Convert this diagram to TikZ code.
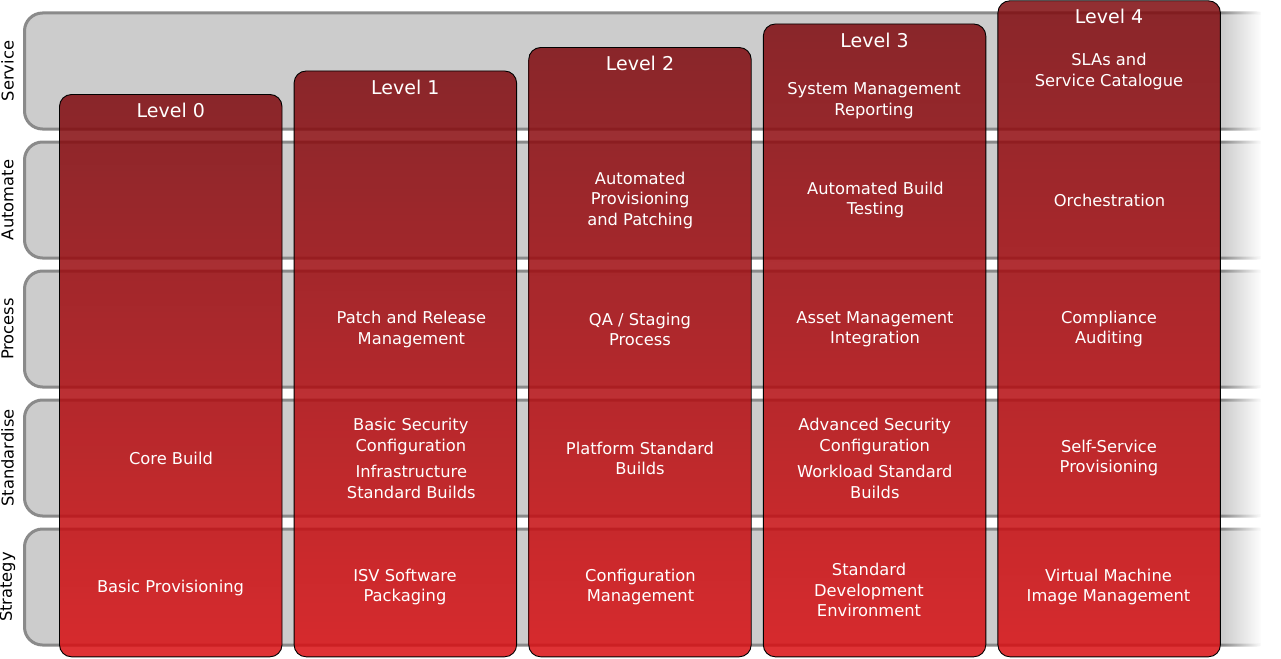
\documentclass[tikz,border=0pt]{standalone}
\usepackage{fontspec}
\setmainfont{DejaVu Sans}
\usetikzlibrary{fadings}
\definecolor{bandfill}{RGB}{204,204,204}
\definecolor{bandline}{RGB}{138,138,138}
\definecolor{coltop}{RGB}{126,10,14}
\definecolor{colbot}{RGB}{218,14,18}
\begin{document}
\begin{tikzpicture}[x=1pt,y=-1pt,
  band/.style={fill=bandfill, draw=bandline, line width=3pt, rounded corners=18pt},
  levelcol/.style={rounded corners=12pt, top color=coltop, bottom color=colbot,
    fill opacity=0.85, draw=black, draw opacity=1, line width=0.9pt},
  rowlabel/.style={rotate=90, text=black, inner sep=0pt, font=\fontsize{16.3}{20}\selectfont},
  leveltitle/.style={text=white, inner sep=0pt, font=\fontsize{19}{22}\selectfont},
  cell/.style={text=white, align=center, inner sep=0pt, font=\fontsize{16.3}{20.5}\selectfont}]
\useasboundingbox (0,0) rectangle (1281,658);

% horizontal capability bands
\foreach \r in {0,...,4}
  \draw[band] (24.5,13+129*\r) rectangle (1275,129+129*\r);

% bands fade out on the right
\fill[white, path fading=west] (1222,0) rectangle (1262,658);
\fill[white] (1261,0) rectangle (1281,658);

% maturity level columns
\foreach \i/\t in {0/94.5,1/71,2/47.5,3/24,4/0.8}
  \path[levelcol] (59.5+234.6*\i,\t) rectangle (282+234.6*\i,656.8);

% band names
\node[rowlabel] (rService)  at (7.5,71)  {Service};
\node[rowlabel] (rAutomate) at (7.5,200) {Automate};
\node[rowlabel] (rProcess)  at (7.5,329) {Process};
\node[rowlabel] (rStandard) at (7.5,458) {Standardise};
\node[rowlabel] (rStrategy) at (7.5,587) {Strategy};

% level titles
\node[leveltitle] (l0) at (170.8,110.7) {Level 0};
\node[leveltitle] (l1) at (405.3,87.3)  {Level 1};
\node[leveltitle] (l2) at (640,63.7)    {Level 2};
\node[leveltitle] (l3) at (874.5,40.3)  {Level 3};
\node[leveltitle] (l4) at (1109,16.9)   {Level 4};

% Service
\node[cell] (sv3) at (874,100.5) {System Management\\Reporting};
\node[cell] (sv4) at (1109,71.5) {SLAs and\\Service Catalogue};

% Automate
\node[cell] (au2) at (640.2,200.5) {Automated\\Provisioning\\and Patching};
\node[cell] (au3) at (875.5,200) {Automated Build\\Testing};
\node[cell] (au4) at (1109.5,200.5) {Orchestration};

% Process
\node[cell] (pr1) at (411.4,329.3) {Patch and Release\\Management};
\node[cell] (pr2) at (640,329.5) {QA / Staging\\Process};
\node[cell] (pr3) at (875,329.3) {Asset Management\\Integration};
\node[cell] (pr4) at (1109,329) {Compliance\\Auditing};

% Standardise
\node[cell] (st0)  at (171,458.5) {Core Build};
\node[cell] (st1a) at (410.8,436.5) {Basic Security\\Configuration};
\node[cell] (st1b) at (411.3,482) {Infrastructure\\Standard Builds};
\node[cell] (st2)  at (640,458.5) {Platform Standard\\Builds};
\node[cell] (st3a) at (874.7,436.5) {Advanced Security\\Configuration};
\node[cell] (st3b) at (874.8,482) {Workload Standard\\Builds};
\node[cell] (st4)  at (1109,458) {Self-Service\\Provisioning};

% Strategy
\node[cell] (sg0) at (170.5,587.5) {Basic Provisioning};
\node[cell] (sg1) at (405,587) {ISV Software\\Packaging};
\node[cell] (sg2) at (640.5,587) {Configuration\\Management};
\node[cell] (sg3) at (869,590) {Standard\\Development\\Environment};
\node[cell] (sg4) at (1108.5,587) {Virtual Machine\\Image Management};
\end{tikzpicture}
\end{document}
